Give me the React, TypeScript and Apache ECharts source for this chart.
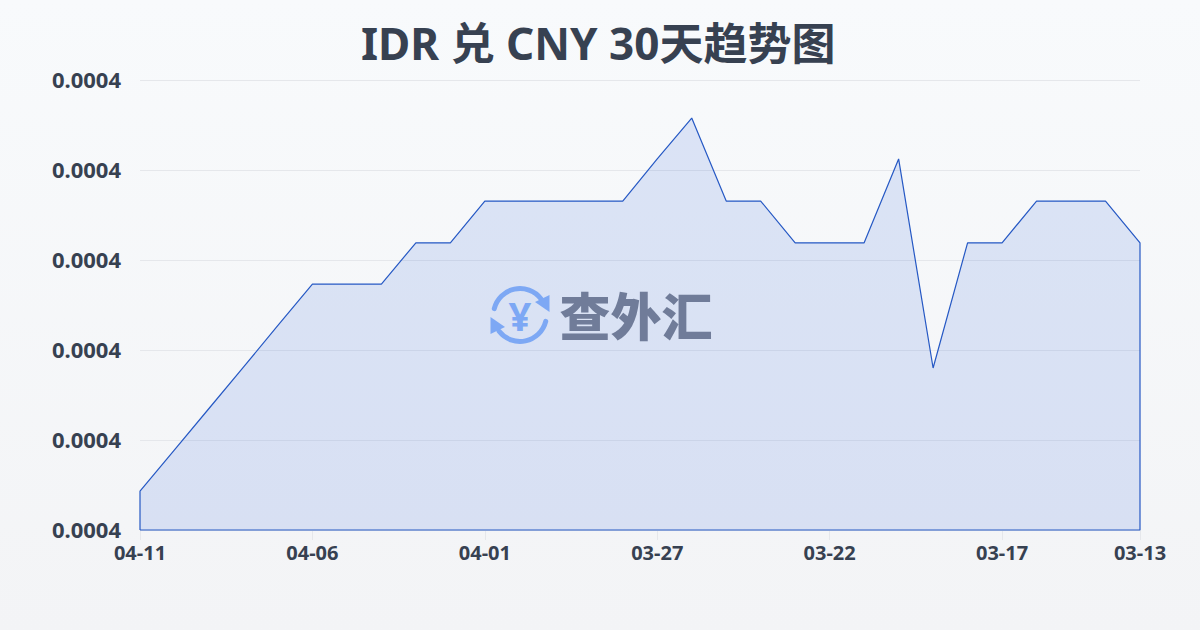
import React, { useEffect, useRef } from "react";
import * as echarts from "echarts";

const titleText = "IDR 兑 CNY 30天趋势图";
const dates = [
  "04-11","04-10","04-09","04-08","04-07","04-06","04-05","04-04","04-03","04-02",
  "04-01","03-31","03-30","03-29","03-28","03-27","03-26","03-25","03-24","03-23",
  "03-22","03-21","03-20","03-19","03-18","03-17","03-16","03-15","03-14","03-13",
];
const rates = [
  0.00037495,0.00037596,0.00037697,0.00037798,0.000379,0.00038001,0.00038001,0.00038001,0.00038102,0.00038102,
  0.00038204,0.00038204,0.00038204,0.00038204,0.00038204,0.00038307,0.00038407,0.00038204,0.00038204,0.00038102,
  0.00038102,0.00038102,0.00038307,0.00037796,0.00038102,0.00038102,0.00038204,0.00038204,0.00038204,0.00038102,
];
const yMin = 0.000374;
const yMax = 0.000385;
const yStep = 0.0000022;
const xStep = 5;

export default function App() {
  const ref = useRef<HTMLDivElement>(null);
  useEffect(() => {
    document.body.style.margin = "0";
    const chart = echarts.init(ref.current!, null, { renderer: "svg" });
    const last = dates.length - 1;
    const outline: number[][] = [[0, yMin], ...rates.map((v, i) => [i, v]), [last, yMin], [0, yMin]];
    const font = "'Noto Sans', 'Noto Sans CJK SC', sans-serif";
    chart.setOption({
      animation: false,
      backgroundColor: new echarts.graphic.LinearGradient(0, 0, 0, 1, [
        { offset: 0, color: "#f8fafc" },
        { offset: 1, color: "#f3f4f6" },
      ]),
      title: {
        text: titleText,
        left: 356,
        top: 16,
        textStyle: { fontFamily: font, fontSize: 44, fontWeight: "bold", color: "#374151" },
      },
      grid: { left: 140, right: 60, top: 80, bottom: 100 },
      xAxis: {
        type: "value",
        min: 0,
        max: last,
        interval: xStep,
        splitLine: { show: false },
        axisLine: { show: false },
        axisTick: { show: true, length: 10, lineStyle: { color: "#e5e7eb" } },
        axisLabel: {
          margin: 12,
          fontFamily: font,
          fontSize: 20,
          fontWeight: "bold",
          color: "#374151",
          showMinLabel: true,
          showMaxLabel: true,
          formatter: (v: number) => dates[Math.round(v)] ?? "",
        },
      },
      yAxis: {
        type: "value",
        min: yMin,
        max: yMax,
        interval: yStep,
        axisLine: { show: false },
        axisTick: { show: false },
        splitLine: { lineStyle: { color: "#e5e7eb", width: 1 } },
        axisLabel: {
          margin: 19,
          verticalAlign: "bottom",
          lineHeight: 3,
          fontFamily: font,
          fontSize: 22,
          fontWeight: "bold",
          color: "#374151",
          formatter: (v: number) => v.toFixed(4),
        },
      },
      series: [
        {
          type: "line",
          data: outline,
          symbol: "none",
          clip: false,
          lineStyle: { color: "#2558c4", width: 1.2 },
          areaStyle: { origin: "start", color: "rgba(50,100,220,0.2)" },
        },
      ],
      graphic: [
        {
          type: "group",
          z: 100,
          children: [
            { type: "arc", shape: { cx: 520, cy: 315, r: 26.5, startAngle: (194 * Math.PI) / 180, endAngle: (322 * Math.PI) / 180 }, style: { fill: "none", stroke: "#8ab4f8", lineWidth: 5, lineCap: "round" } },
            { type: "arc", shape: { cx: 520, cy: 315, r: 26.5, startAngle: (14 * Math.PI) / 180, endAngle: (142 * Math.PI) / 180 }, style: { fill: "none", stroke: "#8ab4f8", lineWidth: 5, lineCap: "round" } },
            { type: "polygon", shape: { points: [[549.5, 295], [549.5, 312], [535, 302]] }, style: { fill: "#8ab4f8" } },
            { type: "polygon", shape: { points: [[490.5, 317], [490.5, 334], [505, 327]] }, style: { fill: "#8ab4f8" } },
            { type: "text", x: 520, y: 315, style: { text: "¥", fill: "#8ab4f8", font: "bold 40px 'Noto Sans', sans-serif", align: "center", verticalAlign: "middle" } },
            { type: "text", x: 636, y: 314, style: { text: "查外汇", fill: "#7b818e", font: "900 51px 'Noto Sans CJK SC', sans-serif", align: "center", verticalAlign: "middle" } },
          ],
        },
      ],
    });
    return () => chart.dispose();
  }, []);
  return <div ref={ref} style={{ width: 1200, height: 630 }} />;
}
